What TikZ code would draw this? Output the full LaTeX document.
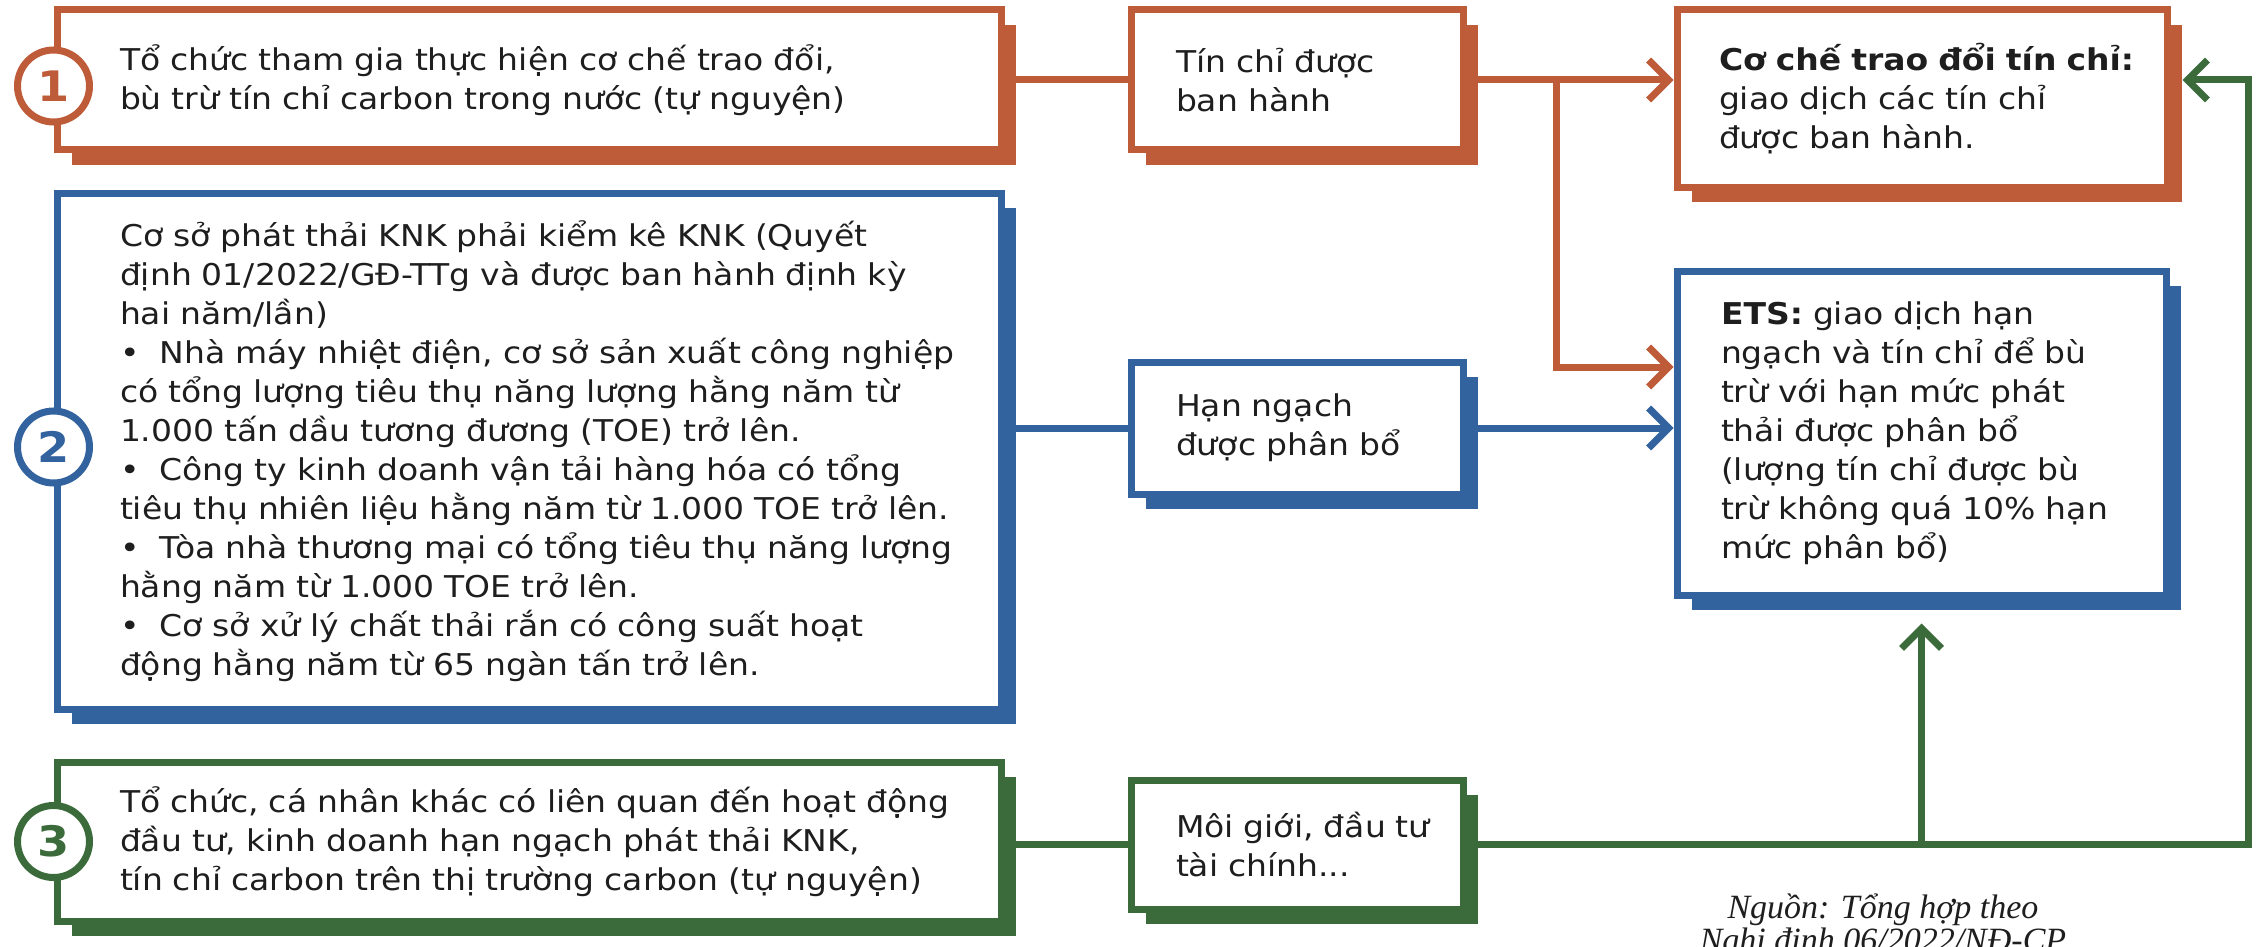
\documentclass[tikz,border=0pt]{standalone}
\usepackage{fontspec}
\setmainfont{DejaVu Sans}[FakeStretch=1.1]
\newfontfamily\srcfont{Liberation Serif}
\usetikzlibrary{arrows.meta}
\usetikzlibrary{calc}
\usetikzlibrary{shadows}
\definecolor{cam}{HTML}{BE5B38}
\definecolor{lam}{HTML}{32639F}
\definecolor{luc}{HTML}{3B6B3B}
\definecolor{chu}{HTML}{1E1E1E}
\tikzset{
	hop/.style={rectangle, draw=#1, line width=7pt, fill=white, inner sep=0pt, align=left, text=chu,
		font=\fontsize{30}{39}\selectfont,
		general shadow={fill=#1, shadow xshift=15pt, shadow yshift=-15pt}},
	so/.style={circle, draw=#1, line width=7pt, fill=white, minimum size=72pt, inner sep=0pt, text=#1,
		font=\bfseries\fontsize{42}{42}\selectfont},
	noi/.style={draw=#1, line width=7pt},
	mui/.style={draw=#1, line width=7pt, -{Straight Barb[length=20pt, width=40pt]}}
}
\begin{document}
\begin{tikzpicture}[x=1pt, y=-1pt]
			\fill[white] (0,0) rectangle (2262,947);
			\useasboundingbox (0,0) rectangle (2262,947);
			\node[hop=cam, minimum width=944pt, minimum height=140pt, text width=818pt] (b1) at (529,80)
				{Tổ chức tham gia thực hiện cơ chế trao đổi,\\bù trừ tín chỉ carbon trong nước (tự nguyện)};
			\node[hop=cam, minimum width=332pt, minimum height=140pt, text width=242pt] (tin) at (1297,80)
				{Tín chỉ được\\ban hành};
			\node[hop=cam, minimum width=490pt, minimum height=177pt, text width=406pt] (coche) at (1922,98.5)
				{\mbox{\bfseries Cơ chế trao đổi tín chỉ:}\\giao dịch các tín chỉ\\được ban hành.};
			\node[hop=lam, minimum width=944pt, minimum height=516pt, text width=818pt] (b2) at (529,451)
				{Cơ sở phát thải KNK phải kiểm kê KNK (Quyết\\\mbox{định 01/2022/GĐ-TTg và được ban hành định kỳ}\\hai năm/lần)\\
				\mbox{•~~Nhà máy nhiệt điện, cơ sở sản xuất công nghiệp}\\có tổng lượng tiêu thụ năng lượng hằng năm từ\\1.000 tấn dầu tương đương (TOE) trở lên.\\
				\mbox{•~~Công ty kinh doanh vận tải hàng hóa có tổng}\\\mbox{tiêu thụ nhiên liệu hằng năm từ 1.000 TOE trở lên.}\\
				\mbox{•~~Tòa nhà thương mại có tổng tiêu thụ năng lượng}\\hằng năm từ 1.000 TOE trở lên.\\
				•~~Cơ sở xử lý chất thải rắn có công suất hoạt\\động hằng năm từ 65 ngàn tấn trở lên.};
			\node[hop=lam, minimum width=332pt, minimum height=132pt, text width=242pt] (han) at (1297,428)
				{Hạn ngạch\\được phân bổ};
			\node[hop=lam, minimum width=489pt, minimum height=324pt, text width=401pt] (ets) at (1921.5,433)
				{{\bfseries ETS:} giao dịch hạn\\ngạch và tín chỉ để bù\\trừ với hạn mức phát\\thải được phân bổ\\(lượng tín chỉ được bù\\trừ không quá 10\% hạn\\mức phân bổ)};
			\node[hop=luc, minimum width=944pt, minimum height=159pt, text width=818pt] (b3) at (529,841.5)
				{\mbox{Tổ chức, cá nhân khác có liên quan đến hoạt động}\\đầu tư, kinh doanh hạn ngạch phát thải KNK,\\\mbox{tín chỉ carbon trên thị trường carbon (tự nguyện)}};
			\node[hop=luc, minimum width=332pt, minimum height=129pt, text width=242pt] (moi) at (1297,844.5)
				{\mbox{Môi giới, đầu tư}\\tài chính...};
			\node[so=cam] (n1) at ([yshift=-6pt]b1.west) {1};
			\node[so=lam] (n2) at ([yshift=4pt]b2.west) {2};
			\node[so=luc] (n3) at (b3.west) {3};
			\node[align=center, inner sep=0pt, text=chu, font=\srcfont\itshape\fontsize{34}{33}\selectfont] (nguon) at (1883,926)
				{Nguồn: Tổng hợp theo\\Nghị định 06/2022/NĐ-CP};
			\coordinate (tach) at (1556,80);
			\coordinate (re) at (2248,844.5);
			\coordinate (vao) at ($(coche.east |- tach)+(12pt,0)$);
			\draw[noi=cam] (b1.east) -- (tin.west);
			\draw[mui=cam] (tin.east) -- (tin.east -| coche.west);
			\draw[mui=cam] (tach) |- ([yshift=66pt]ets.west);
			\draw[noi=lam] (b2.east |- han.west) -- (han.west);
			\draw[mui=lam] (han.east) -- (han.east -| ets.west);
			\draw[noi=luc] (b3.east |- moi.west) -- (moi.west);
			\draw[mui=luc] (moi.east) -- (re) |- (vao);
			\draw[mui=luc] (ets.south |- moi.east) -- ([yshift=-25pt]ets.south);
\end{tikzpicture}
\end{document}
